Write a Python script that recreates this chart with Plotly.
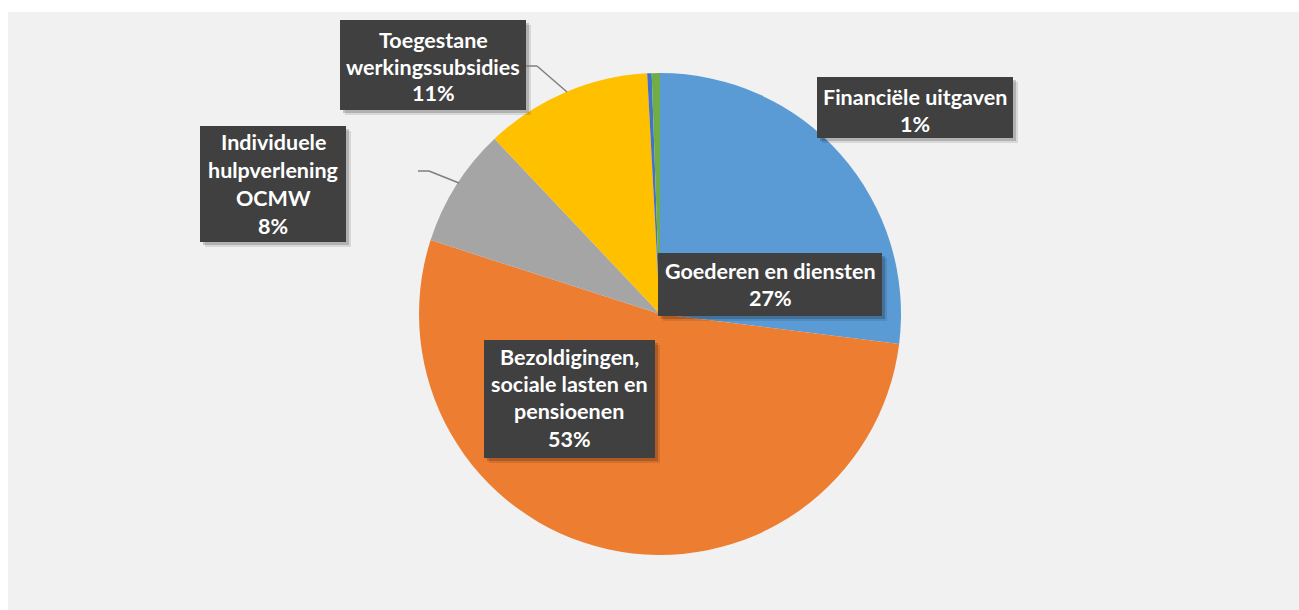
import plotly.graph_objects as go

# ---- data ----
categories = [
    "Goederen en diensten",
    "Bezoldigingen, sociale lasten en pensioenen",
    "Individuele hulpverlening OCMW",
    "Toegestane werkingssubsidies",
    "Overige uitgaven",
    "Financiële uitgaven",
]
values = [27.0, 53.0, 8.0, 11.2, 0.3, 0.55]
colors = ["#5B9BD5", "#ED7D31", "#A5A5A5", "#FFC000", "#4472C4", "#70AD47"]
# label lines as wrapped in the chart (None = no label)
label_lines = [
    ["Goederen en diensten"],
    ["Bezoldigingen,", "sociale lasten en", "pensioenen"],
    ["Individuele", "hulpverlening", "OCMW"],
    ["Toegestane", "werkingssubsidies"],
    None,
    ["Financiële uitgaven"],
]

W, H = 1299, 610
total = sum(values)
pcts = [int(v / total * 100 + 0.5) for v in values]


def px(x, y):
    return x / W, 1 - y / H


cx, cy, r = 660, 314, 241
fig = go.Figure(go.Pie(
    labels=categories,
    values=values,
    marker=dict(colors=colors, line=dict(width=0)),
    sort=False,
    direction="clockwise",
    rotation=0,
    textinfo="none",
    hoverinfo="label+percent",
    showlegend=False,
    domain=dict(x=[(cx - r) / W, (cx + r) / W], y=[1 - (cy + r) / H, 1 - (cy - r) / H]),
))

shapes = []
annotations = []

# chart area background
shapes.append(dict(type="rect", xref="paper", yref="paper", x0=8 / W, x1=1, y0=0, y1=1 - 12 / H,
                   fillcolor="#F1F1F1", line=dict(width=0), layer="below"))

# label box placement: (left, top, right, bottom) in pixels and line centers
boxes = {
    0: ((658, 253, 882, 316), 770, [271, 298]),
    1: ((484, 340, 655, 458), 569, [357, 384, 411, 439]),
    2: ((200, 126, 346, 242), 273, [142, 170, 198, 226]),
    3: ((340, 20, 526, 110), 433, [40, 67, 93]),
    5: ((817, 77, 1013, 138), 915, [97, 124]),
}
leaders = {
    3: [(526, 66), (537, 66), (567, 92)],
    2: [(418, 171), (429, 171), (459, 183)],
}

for i, (box, tx, ys) in boxes.items():
    l, t, rr, b = box
    for off, op in [(5, 0.10), (3, 0.18)]:
        x0, y0 = px(l + off, b + off)
        x1, y1 = px(rr + off, t + off)
        shapes.append(dict(type="rect", xref="paper", yref="paper", x0=x0, x1=x1, y0=y0, y1=y1,
                           fillcolor=f"rgba(0,0,0,{op})", line=dict(width=0)))
    x0, y0 = px(l, b)
    x1, y1 = px(rr, t)
    shapes.append(dict(type="rect", xref="paper", yref="paper", x0=x0, x1=x1, y0=y0, y1=y1,
                       fillcolor="#404040", line=dict(width=0)))
    lines = label_lines[i] + [f"{pcts[i]}%"]
    for txt, yy in zip(lines, ys):
        ax, ay = px(tx, yy)
        annotations.append(dict(x=ax, y=ay, xref="paper", yref="paper", text=f"<b>{txt}</b>",
                                showarrow=False, xanchor="center", yanchor="middle",
                                font=dict(family="Lato, sans-serif", size=21.5, color="white")))

for i, pts in leaders.items():
    for (xa, ya), (xb, yb) in zip(pts[:-1], pts[1:]):
        x0, y0 = px(xa, ya)
        x1, y1 = px(xb, yb)
        shapes.append(dict(type="line", xref="paper", yref="paper", x0=x0, y0=y0, x1=x1, y1=y1,
                           line=dict(color="#7F7F7F", width=1.5)))

fig.update_layout(
    width=W, height=H,
    margin=dict(l=0, r=0, t=0, b=0),
    paper_bgcolor="white",
    plot_bgcolor="white",
    shapes=shapes,
    annotations=annotations,
)

fig.write_html("out.html", config={"displayModeBar": False},
               post_script="document.body.style.margin='0';")
